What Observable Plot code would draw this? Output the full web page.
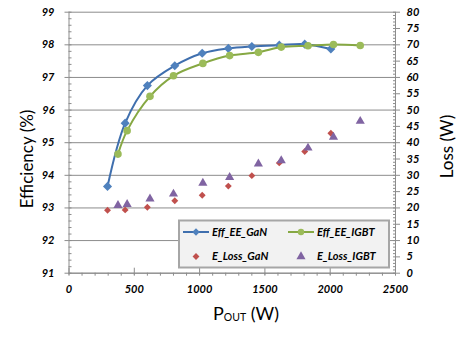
<!DOCTYPE html>
<html><head><meta charset="utf-8">
<script src="https://cdn.jsdelivr.net/npm/d3@7"></script>
<script src="https://cdn.jsdelivr.net/npm/@observablehq/plot@0.6"></script>
<style>
body{margin:0;background:#fff;}
#wrap{position:relative;width:473px;height:337px;}
</style></head><body><div id="wrap"></div>
<script>
// Data
const ganP = [295,430,600,810,1020,1220,1400,1610,1805,2005];
const ganEff = [93.66,95.60,96.75,97.36,97.74,97.89,97.95,97.99,98.02,97.87];
const ganLoss = [19.3,19.4,20.2,22.2,23.9,26.7,29.9,33.8,37.3,42.9];
const igbtP = [375,445,620,800,1025,1230,1450,1625,1830,2025,2230];
const igbtEff = [94.65,95.37,96.42,97.05,97.43,97.67,97.77,97.93,97.97,98.01,97.98];
const igbtLoss = [20.8,21.1,22.8,24.3,27.6,29.4,33.5,34.5,38.4,41.7,46.6];
const xTicks = [0,500,1000,1500,2000,2500];
const effTicks = [91,92,93,94,95,96,97,98,99];
const lossTicks = [0,5,10,15,20,25,30,35,40,45,50,55,60,65,70,75,80];
const seriesNames = ["Eff_EE_GaN","Eff_EE_IGBT","E_Loss_GaN","E_Loss_IGBT"];

const gan = ganP.map((p,i)=>({p, eff:ganEff[i], loss:ganLoss[i]}));
const igbt = igbtP.map((p,i)=>({p, eff:igbtEff[i], loss:igbtLoss[i]}));
const lossToEff = v => 91 + v/10;

const axisCol = "#8c8c8c";
const font = "Lato, 'Open Sans', sans-serif";

const chart = Plot.plot({
  width:473, height:337,
  marginLeft:68.5, marginRight:78, marginTop:11.7, marginBottom:64.3,
  x:{domain:[0,2500]},
  y:{domain:[91,99]},
  style:{fontFamily:font, fontSize:"11px", fontWeight:"bold", fontStyle:"italic", color:"#000", background:"#fff"},
  marks:[
    Plot.gridY(effTicks,{stroke:axisCol, strokeOpacity:1, strokeWidth:1}),
    // left axis
    Plot.axisY({anchor:"left", ticks:effTicks, tickFormat:d=>String(d), tickSize:4, tickPadding:10.5, label:null, stroke:axisCol, fill:"#000"}),
    Plot.axisY({anchor:"left", ticks:d3.range(91,99.001,0.2), tickSize:-3, text:null, label:null, stroke:axisCol}),
    // right axis (loss)
    Plot.axisY({anchor:"right", ticks:lossTicks.map(lossToEff), tickFormat:v=>String(Math.round((v-91)*10)), tickSize:4, tickPadding:7, label:null, stroke:axisCol, fill:"#000"}),
    Plot.axisY({anchor:"right", ticks:d3.range(0,80.001,1).map(lossToEff), tickSize:-3, text:null, label:null, stroke:axisCol}),
    // bottom axis
    Plot.axisX({ticks:xTicks, tickFormat:d=>String(d), tickSize:2, tickPadding:10, label:null, stroke:axisCol, fill:"#000"}),
    Plot.axisX({ticks:xTicks, tickSize:-5, text:null, label:null, stroke:axisCol}),
    Plot.axisX({ticks:d3.range(0,2501,100), tickSize:3, text:null, label:null, stroke:axisCol}),
    Plot.ruleX([0,2500],{stroke:axisCol}),
    Plot.ruleY([91],{stroke:axisCol}),
    // GaN efficiency
    Plot.line(gan,{x:"p", y:"eff", curve:"catmull-rom", stroke:"#3f6fae", strokeWidth:2}),
    Plot.dot(gan,{x:"p", y:"eff", symbol:"diamond2", r:4.1, fill:"#4f81bd", stroke:"none"}),
    // IGBT efficiency
    Plot.line(igbt,{x:"p", y:"eff", curve:"catmull-rom", stroke:"#86a843", strokeWidth:2}),
    Plot.dot(igbt,{x:"p", y:"eff", symbol:"circle", r:3.8, fill:"#9bbb59", stroke:"none"}),
    // losses (right axis)
    Plot.dot(gan,{x:"p", y:d=>lossToEff(d.loss), symbol:"diamond2", r:3.1, fill:"#c0504d", stroke:"none"}),
    Plot.dot(igbt,{x:"p", y:d=>lossToEff(d.loss), symbol:"triangle", r:3.4, fill:"#8064a2", stroke:"none"})
  ]
});
document.getElementById("wrap").appendChild(chart);

const svg = d3.select(chart);
// axis titles
svg.append("text").attr("transform","translate(33,159) rotate(-90)")
  .attr("text-anchor","middle").attr("font-family",font).attr("font-size",17)
  .attr("font-style","normal").attr("font-weight","normal").attr("fill","#000")
  .text("Efficiency (%)");
svg.append("text").attr("transform","translate(453,146.5) rotate(-90)")
  .attr("text-anchor","middle").attr("font-family",font).attr("font-size",17)
  .attr("font-style","normal").attr("font-weight","normal").attr("fill","#000")
  .text("Loss (W)");
const xl = svg.append("text").attr("x",213).attr("y",320).attr("text-anchor","start")
  .attr("font-family",font).attr("font-size",18)
  .attr("font-style","normal").attr("font-weight","normal").attr("fill","#000");
xl.append("tspan").text("P");
xl.append("tspan").attr("font-size",10.5).attr("dy",0.5).text("OUT");
xl.append("tspan").attr("dy",-0.5).text(" (W)");

// legend
const lg = svg.append("g");
lg.append("rect").attr("x",179).attr("y",220.5).attr("width",210).attr("height",47)
  .attr("fill","#f2f2f2").attr("stroke","#a6a6a6").attr("stroke-width",2);
const legItems = [
  {name:seriesNames[0], x:183, y:232, line:"#3f6fae", sym:"diamond2", fill:"#4f81bd", size:36},
  {name:seriesNames[1], x:288, y:232, line:"#86a843", sym:"circle", fill:"#9bbb59", size:32},
  {name:seriesNames[2], x:183, y:256.5, line:null, sym:"diamond2", fill:"#c0504d", size:30},
  {name:seriesNames[3], x:288, y:256.5, line:null, sym:"triangle", fill:"#8064a2", size:36}
];
const symMap = {diamond2:d3.symbolDiamond2, circle:d3.symbolCircle, triangle:d3.symbolTriangle};
for (const it of legItems){
  if (it.line) lg.append("line").attr("x1",it.x).attr("x2",it.x+26).attr("y1",it.y).attr("y2",it.y)
    .attr("stroke",it.line).attr("stroke-width",2);
  lg.append("path").attr("d",d3.symbol(symMap[it.sym], it.size)())
    .attr("transform",`translate(${it.x+13},${it.y})`).attr("fill",it.fill);
  lg.append("text").attr("x",it.x+29).attr("y",it.y).attr("dy","0.35em").attr("text-anchor","start")
    .attr("font-family",font).attr("font-size",11).attr("font-weight","bold").attr("font-style","italic")
    .attr("fill","#000").text(it.name);
}
</script>
</body></html>
